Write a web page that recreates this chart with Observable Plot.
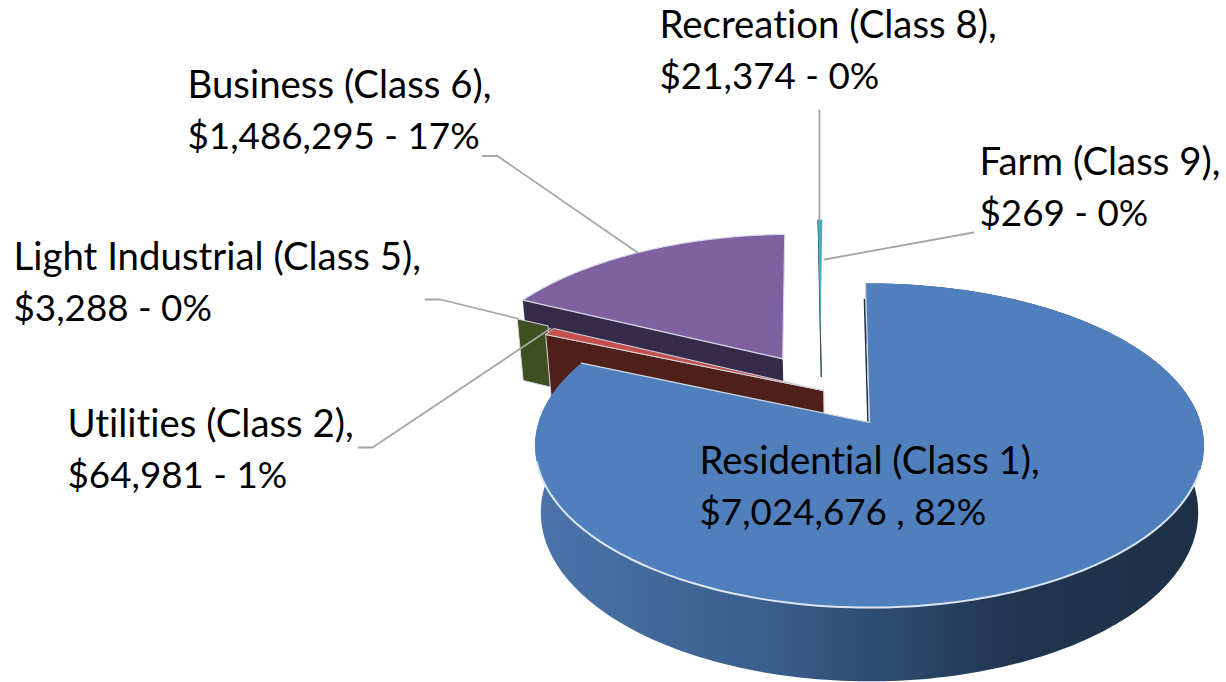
<!DOCTYPE html>
<html>
<head>
<meta charset="utf-8">
<script src="https://cdn.jsdelivr.net/npm/d3@7"></script>
<script src="https://cdn.jsdelivr.net/npm/@observablehq/plot@0.6"></script>
<style>html,body{margin:0;padding:0;background:#fff}svg{display:block}</style>
</head>
<body>
<div id="chart"></div>
<script>
// ---- data ----
const categories = ["Residential (Class 1)", "Utilities (Class 2)", "Light Industrial (Class 5)", "Business (Class 6)", "Recreation (Class 8)", "Farm (Class 9)"];
const amounts = [7024676, 64981, 3288, 1486295, 21374, 269];
const percents = [82, 1, 0, 17, 0, 0];
const separators = [" , ", " - ", " - ", " - ", " - ", " - "];

// ---- layout ----
const topColors = ["#4f7fbc", "#c5504c", "#4f6228", "#7f60a0", "#4bacc6", "#f79646"];
const wallColors = ["url(#sideGrad)", "#4f1f1a", "#3f4f20", "#352a4a", "#33505a", "#7a4a20"];
const offsets = [[0, 0], [-0.143, 0.207], [-0.274, 0.282], [-0.278, 0.425], [-0.16, 0.56], [-0.15, 0.57]];
const wallFrom = [0, 0, 0.879, 0, 0, 0]; // portion of the cut edge that is visible
const wallDepth = [66, 66, 66, 66, 40, 40];
const labelX = [699, 67, 13, 187, 659, 979];
const labelY = [446.5, 409.5, 242.5, 70, 10, 147.5];
const lineGap = 52;
const leaders = [
  [],
  [[358, 447], [372, 447], [550, 328]],
  [[425, 299], [440, 299], [517, 318]],
  [[482, 155.5], [497, 155.5], [637, 252]],
  [[819, 110], [819, 219]],
  [[973, 232], [824, 259]]
];
const startAngle = -0.8;
const cx = 869, cy = 422, Rx = 331, Ry = 158.8, persp = 0.142;
const edge = "#d5dae6";

// ---- geometry from values ----
const total = d3.sum(amounts);
const rad = d => d * Math.PI / 180;
function project(a, b) {
  const w = 1 + persp * b;
  return {x: cx + Rx * a / w, y: cy - Ry * b / w};
}
function lower(p, depth) {
  return {x: cx + (p.x - cx) * 0.983, y: p.y + depth + (p.y - cy) * 0.042};
}
let cum = startAngle;
const slices = amounts.map((v, i) => {
  const a0 = cum, a1 = cum + v / total * 360;
  cum = a1;
  return {i, a0, a1};
});
function arc(i, a0, a1, n) {
  const [ox, oy] = offsets[i];
  return d3.range(n + 1).map(k => {
    const t = rad(a0 + (a1 - a0) * k / n);
    return project(ox + Math.sin(t), oy + Math.cos(t));
  });
}
const rim = (s, n) => arc(s.i, s.a0, s.a1, n);
function topFace(s) {
  const [ox, oy] = offsets[s.i];
  return [project(ox, oy), ...rim(s, Math.max(2, Math.ceil(s.a1 - s.a0) * 2))];
}
function cutFace(s) {
  const [ox, oy] = offsets[s.i];
  const t = rad(s.a0), f = wallFrom[s.i], d = wallDepth[s.i];
  const inner = project(ox + f * Math.sin(t), oy + f * Math.cos(t));
  const outer = project(ox + Math.sin(t), oy + Math.cos(t));
  return [inner, outer, lower(outer, d), lower(inner, d)];
}
function outerBand(s) {
  const r = rim(s, 240);
  return [...r, ...r.map(p => lower(p, wallDepth[s.i])).reverse()];
}
const face = (pts, fill, stroke, strokeWidth) =>
  Plot.line(pts, {x: "x", y: "y", fill, stroke: stroke || "none", strokeWidth: strokeWidth || 0, curve: "linear-closed"});

const [res, uti, lig, bus, rec, far] = slices;

const defs = () => {
  const d = d3.create("svg:defs");
  const g = d.append("linearGradient").attr("id", "sideGrad").attr("gradientUnits", "userSpaceOnUse")
    .attr("x1", 540).attr("x2", 1200).attr("y1", 0).attr("y2", 0);
  [[0, "#4a74aa"], [0.15, "#436a9c"], [0.35, "#3a5e8c"], [0.5, "#2f4d74"], [0.72, "#1f3550"], [1, "#1d3047"]]
    .forEach(([o, c]) => g.append("stop").attr("offset", o).attr("stop-color", c));
  return d.node();
};

const nameRows = categories.map((c, i) => ({x: labelX[i], y: labelY[i], text: `${c},`}));
const valueRows = categories.map((c, i) => ({
  x: labelX[i], y: labelY[i] + lineGap,
  text: `$${d3.format(",")(amounts[i])}${separators[i]}${percents[i]}%`
}));

const apex = project(0, 0);
const startRim = project(Math.sin(rad(startAngle)), Math.cos(rad(startAngle)));
const endRim = project(Math.sin(rad(res.a1)), Math.cos(rad(res.a1)));
const startEdge = [project(Math.sin(rad(startAngle)) * 0.87, Math.cos(rad(startAngle)) * 0.87), apex]
  .map(p => ({x: p.x - 1.5, y: p.y}));

const chart = Plot.plot({
  width: 1226, height: 682, margin: 0,
  x: {axis: null, domain: [0, 1226], range: [0, 1226]},
  y: {axis: null, domain: [0, 682], range: [0, 682]},
  style: {background: "#fff", fontVariantLigatures: "none"},
  marks: [
    defs,
    face(cutFace(rec), wallColors[4], wallColors[4], 1),
    face(topFace(rec), topColors[4]),
    face(topFace(far), topColors[5]),
    face(cutFace(bus), wallColors[3]),
    face(topFace(bus), topColors[3], edge, 1.2),
    face(cutFace(lig), wallColors[2], edge, 1),
    face(cutFace(uti), wallColors[1], edge, 1),
    face(topFace(uti), topColors[1], edge, 1),
    face(outerBand(res), wallColors[0]),
    Plot.line(startEdge, {x: "x", y: "y", stroke: "#1d3047", strokeWidth: 1.5}),
    face(topFace(res), topColors[0]),
    Plot.line([endRim, apex, startRim], {x: "x", y: "y", stroke: edge, strokeWidth: 1.2}),
    Plot.line(arc(0, 107, 256, 120), {x: "x", y: "y", stroke: "#dce6f2", strokeWidth: 2}),
    ...leaders.filter(l => l.length).map(l =>
      Plot.line(l.map(([x, y]) => ({x, y})), {x: "x", y: "y", stroke: "#a6a6a6", strokeWidth: 1.8})),
    Plot.text(nameRows, {
      x: "x", y: "y", text: "text", textAnchor: "start", lineAnchor: "top",
      fontFamily: "Lato", fontSize: 38.4, fill: "#000"
    }),
    Plot.text(valueRows, {
      x: "x", y: "y", text: "text", textAnchor: "start", lineAnchor: "top",
      fontFamily: "Lato", fontSize: 36.8, fill: "#000"
    })
  ]
});
document.getElementById("chart").append(chart);
</script>
</body>
</html>
